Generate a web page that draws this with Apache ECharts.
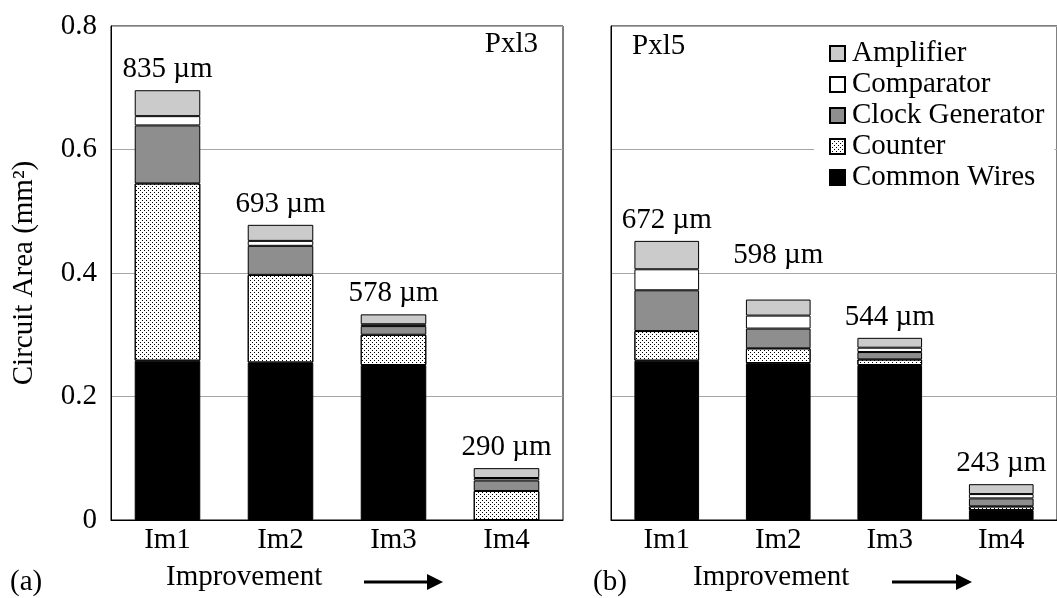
<!DOCTYPE html>
<html>
<head>
<meta charset="utf-8">
<script src="https://cdn.jsdelivr.net/npm/echarts@6/dist/echarts.min.js"></script>
<style>
html,body{margin:0;padding:0;background:#fff;}
#chart{width:1057px;height:598px;}
</style>
</head>
<body>
<div id="chart"></div>
<script>
// ---- data ----
const categories = ['Im1', 'Im2', 'Im3', 'Im4'];
const seriesNames = ['Common Wires', 'Counter', 'Clock Generator', 'Comparator', 'Amplifier'];
const legendOrder = ['Amplifier', 'Comparator', 'Clock Generator', 'Counter', 'Common Wires'];
const yTicks = [0, 0.2, 0.4, 0.6, 0.8];

// Pxl3 (a)
const pxl3CommonWires = [0.258, 0.255, 0.251, 0];
const pxl3Counter     = [0.287, 0.142, 0.049, 0.047];
const pxl3Clock       = [0.094, 0.047, 0.014, 0.017];
const pxl3Comparator  = [0.015, 0.008, 0.003, 0.004];
const pxl3Amplifier   = [0.042, 0.026, 0.016, 0.016];
const pxl3Labels = ['835 µm', '693 µm', '578 µm', '290 µm'];

// Pxl5 (b)
const pxl5CommonWires = [0.258, 0.254, 0.251, 0.016];
const pxl5Counter     = [0.048, 0.024, 0.009, 0.006];
const pxl5Clock       = [0.066, 0.032, 0.012, 0.013];
const pxl5Comparator  = [0.034, 0.021, 0.007, 0.007];
const pxl5Amplifier   = [0.046, 0.026, 0.016, 0.016];
const pxl5Labels = ['672 µm', '598 µm', '544 µm', '243 µm'];

// ---- styles ----
const FONT = "'Liberation Serif', 'Times New Roman', serif";
const FS = 29;
const styles = {
  'Common Wires': { color: '#000000' },
  'Counter': { color: '#ffffff', decal: { symbol: 'rect', symbolSize: 1, color: '#000', dashArrayX: [[1, 3], [0, 2, 1, 1]], dashArrayY: [1, 1], rotation: 0 } },
  'Clock Generator': { color: '#8e8e8e' },
  'Comparator': { color: '#ffffff' },
  'Amplifier': { color: '#cbcbcb' }
};

function makeSeries(panel, arrays, labels) {
  return seriesNames.map((name, i) => {
    const isTop = i === seriesNames.length - 1;
    const data = arrays[i].map((v, j) => {
      if (isTop && panel === 1 && j === 1) {
        return { value: v, label: { distance: 30 } };
      }
      return v;
    });
    return {
      type: 'bar',
      name: name,
      stack: 'p' + panel,
      xAxisIndex: panel,
      yAxisIndex: panel,
      barWidth: '58%',
      data: data,
      itemStyle: Object.assign({ borderColor: '#000', borderWidth: 1 }, styles[name]),
      label: isTop ? {
        show: true,
        position: 'top',
        distance: 6,
        fontFamily: FONT,
        fontSize: FS,
        color: '#000',
        formatter: p => labels[p.dataIndex]
      } : { show: false },
      emphasis: { disabled: true },
      animation: false
    };
  });
}

const chart = echarts.init(document.getElementById('chart'), null, { renderer: 'canvas' });

function xAxis(gi) {
  return {
    type: 'category',
    gridIndex: gi,
    data: categories,
    axisLine: { lineStyle: { color: '#000', width: 1 } },
    axisTick: { show: false },
    axisLabel: { fontFamily: FONT, fontSize: FS, color: '#000', margin: 6 }
  };
}
function yAxis(gi, showLabels) {
  return {
    type: 'value',
    gridIndex: gi,
    min: 0, max: 0.8, interval: 0.2,
    axisLine: { show: true, lineStyle: { color: '#000', width: 1 } },
    axisTick: { show: false },
    splitLine: { show: true, lineStyle: { color: '#a6a6a6', width: 1 } },
    axisLabel: {
      show: showLabels, fontFamily: FONT, fontSize: FS, color: '#000', margin: 14,
      formatter: v => yTicks.includes(Math.round(v * 10) / 10) ? String(Math.round(v * 10) / 10) : ''
    },
    name: showLabels ? 'Circuit Area (mm²)' : '',
    nameLocation: 'middle',
    nameGap: 72,
    nameRotate: 90,
    nameTextStyle: { fontFamily: FONT, fontSize: FS, color: '#000' }
  };
}

function arrow(x1, x2, y) {
  return [
    { type: 'line', shape: { x1: x1, y1: y, x2: x2 - 14, y2: y }, style: { stroke: '#000', lineWidth: 3 } },
    { type: 'polygon', shape: { points: [[x2 - 16, y - 8], [x2, y], [x2 - 16, y + 8]] }, style: { fill: '#000' } }
  ];
}
function txt(x, y, s, align) {
  return { type: 'text', x: x, y: y, style: { text: s, fontFamily: FONT, fontSize: FS, fill: '#000', align: align || 'left', verticalAlign: 'middle' } };
}

const option = {
  backgroundColor: '#fff',
  animation: false,
  grid: [
    { left: 111, top: 26, width: 452, height: 494, show: true, borderColor: '#000', borderWidth: 1, backgroundColor: 'transparent' },
    { left: 611, top: 26, width: 452, height: 494, show: true, borderColor: '#000', borderWidth: 1, backgroundColor: 'transparent' }
  ],
  xAxis: [xAxis(0), xAxis(1)],
  yAxis: [yAxis(0, true), yAxis(1, false)],
  legend: {
    data: legendOrder,
    orient: 'vertical',
    left: 814,
    top: 32,
    padding: [6, 10, 6, 15],
    backgroundColor: '#fff',
    itemWidth: 15,
    itemHeight: 15,
    itemGap: 0,
    icon: 'rect',
    selectedMode: false,
    textStyle: { fontFamily: FONT, fontSize: FS, color: '#000', lineHeight: 31, padding: [0, 0, 0, 2] }
  },
  series: [].concat(
    makeSeries(0, [pxl3CommonWires, pxl3Counter, pxl3Clock, pxl3Comparator, pxl3Amplifier], pxl3Labels),
    makeSeries(1, [pxl5CommonWires, pxl5Counter, pxl5Clock, pxl5Comparator, pxl5Amplifier], pxl5Labels)
  ),
  graphic: [].concat(
    [txt(538, 44, 'Pxl3', 'right'), txt(632, 46, 'Pxl5', 'left')],
    [txt(10, 582, '(a)'), txt(166, 577, 'Improvement')],
    arrow(364, 443, 582),
    [txt(593, 582, '(b)'), txt(693, 577, 'Improvement')],
    arrow(892, 972, 582)
  )
};
chart.setOption(option);
</script>
</body>
</html>
